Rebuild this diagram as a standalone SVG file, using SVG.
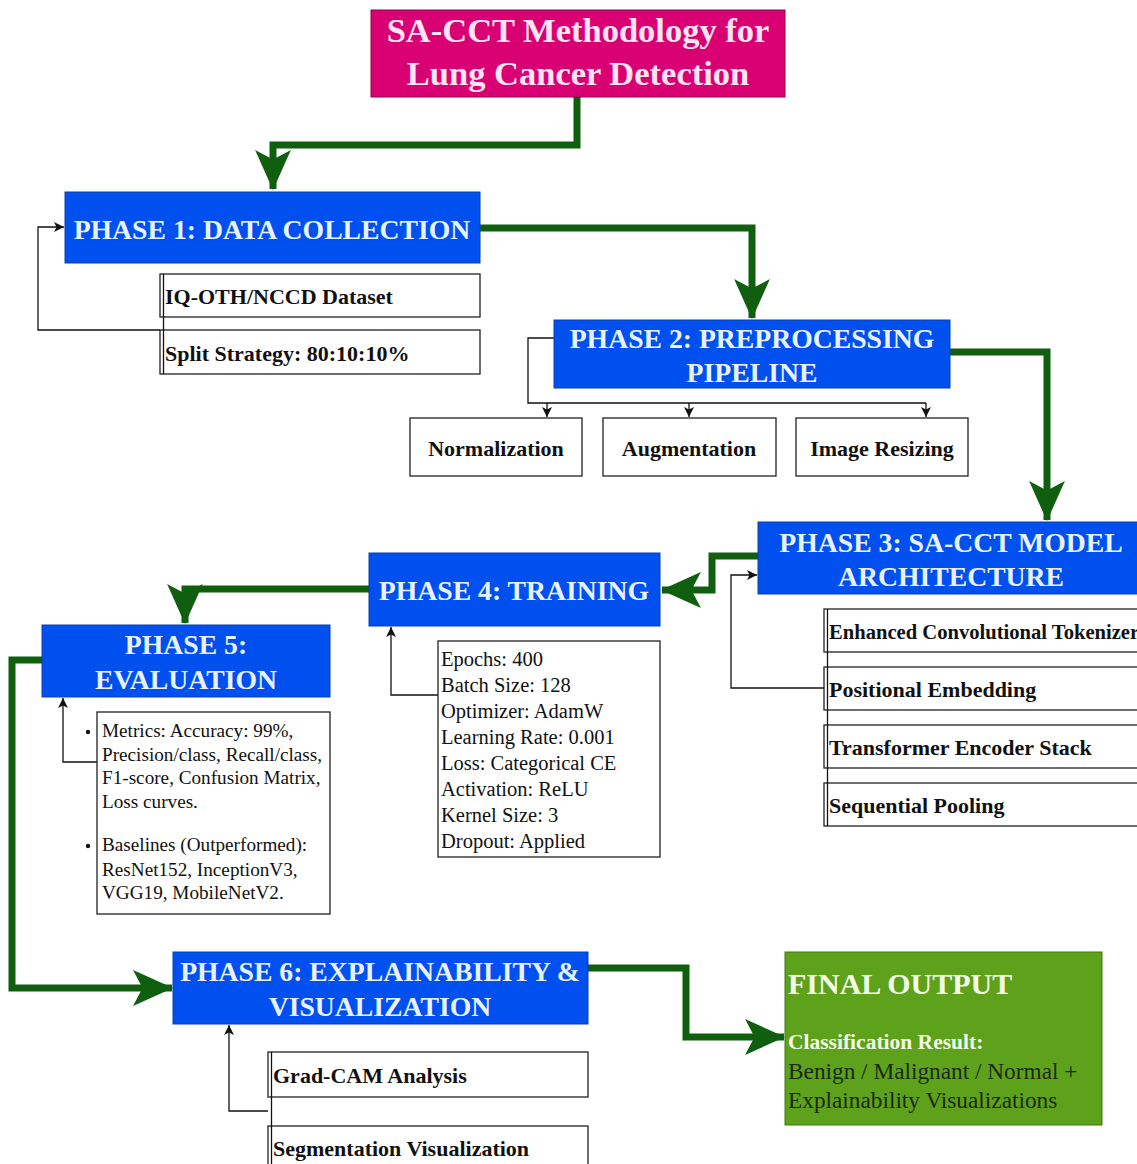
<svg xmlns="http://www.w3.org/2000/svg" width="1137" height="1164" viewBox="0 0 1137 1164">
<style>
.phase{fill:#0050ef;stroke:#0b3fb0;stroke-width:1}
.ph{font-family:"Liberation Serif",serif;font-weight:bold;font-size:27.7px;fill:#e8f2ff;text-anchor:middle}
.sub{fill:#fff;stroke:#222;stroke-width:1.3}
.st{font-family:"Liberation Serif",serif;font-weight:bold;font-size:22px;fill:#111}
.st2{font-family:"Liberation Serif",serif;font-weight:bold;font-size:20.6px;fill:#111}
.dt{font-family:"Liberation Serif",serif;font-size:20.5px;fill:#111}
.dt5{font-family:"Liberation Serif",serif;font-size:19.2px;fill:#111}
.g{fill:none;stroke:#0f5f0f;stroke-width:7;marker-end:url(#ga)}
.b{fill:none;stroke:#111;stroke-width:1.3;marker-end:url(#ba)}
.bl{fill:none;stroke:#111;stroke-width:1.3}
</style>
<defs>
<marker id="ga" markerUnits="userSpaceOnUse" markerWidth="40" markerHeight="36" viewBox="0 0 38 34" refX="37" refY="17" orient="auto">
<path d="M0,0 L38,17 L0,34 L9,17 z" fill="#0f5f0f"/>
</marker>
<marker id="ba" markerUnits="userSpaceOnUse" markerWidth="10" markerHeight="10" viewBox="0 0 10 10" refX="10" refY="5" orient="auto">
<path d="M0,0 L10,5 L0,10 L2.5,5 z" fill="#111"/>
</marker>
</defs>
<rect width="1137" height="1164" fill="#fff"/>

<g id="connectors">
<path class="g" d="M577,97 V145 H273 V189"/>
<path class="g" d="M480,228 H752 V318"/>
<path class="g" d="M950,352 H1047 V520"/>
<path class="g" d="M758,556 H712 V590 H662"/>
<path class="g" d="M369,589 H185 V623"/>
<path class="g" d="M42,660 H12 V988 H172"/>
<path class="g" d="M588,968 H686 V1037 H784"/>
<path class="b" d="M160,330 H38 V227 H64"/>
<path class="bl" d="M554,338 H528 V403 H926"/>
<path class="b" d="M547,403 V417"/>
<path class="b" d="M689,403 V417"/>
<path class="b" d="M926,403 V417"/>
<path class="b" d="M826,688 H731 V575 H757"/>
<path class="b" d="M438,695 H391 V627"/>
<path class="b" d="M97,762 H63 V698"/>
<path class="b" d="M268,1111 H229 V1025"/>
</g>

<g id="title">
<rect x="371" y="10" width="414" height="87" fill="#d80073" stroke="#8f0050" stroke-width="1"/>
<text x="578" y="42" font-family="Liberation Serif,serif" font-weight="bold" font-size="34.5" fill="#ffe4f2" text-anchor="middle">SA-CCT Methodology for</text>
<text x="578" y="85" font-family="Liberation Serif,serif" font-weight="bold" font-size="34.5" fill="#ffe4f2" text-anchor="middle">Lung Cancer Detection</text>
</g>

<g id="phase1">
<rect class="phase" x="65" y="192" width="415" height="71"/>
<text class="ph" x="272" y="239">PHASE 1: DATA COLLECTION</text>
</g>
<g id="p1-dataset">
<rect class="sub" x="160" y="274" width="320" height="43"/>
<text class="st" x="165" y="304">IQ-OTH/NCCD Dataset</text>
</g>
<g id="p1-split">
<rect class="sub" x="160" y="330" width="320" height="44"/>
<text class="st" x="165" y="361">Split Strategy: 80:10:10%</text>
</g>
<line class="bl" x1="163.5" y1="274" x2="163.5" y2="374"/>

<g id="phase2">
<rect class="phase" x="554" y="320" width="396" height="68"/>
<text class="ph" x="752" y="348">PHASE 2: PREPROCESSING</text>
<text class="ph" x="752" y="382">PIPELINE</text>
</g>
<g id="p2-norm">
<rect class="sub" x="410" y="418" width="172" height="58"/>
<text class="st" x="496" y="456" text-anchor="middle">Normalization</text>
</g>
<g id="p2-aug">
<rect class="sub" x="603" y="418" width="173" height="58"/>
<text class="st" x="689" y="456" text-anchor="middle">Augmentation</text>
</g>
<g id="p2-resize">
<rect class="sub" x="796" y="418" width="172" height="58"/>
<text class="st" x="882" y="456" text-anchor="middle">Image Resizing</text>
</g>

<g id="phase3">
<rect class="phase" x="758" y="522" width="385" height="72"/>
<text class="ph" x="951" y="552">PHASE 3: SA-CCT MODEL</text>
<text class="ph" x="951" y="586">ARCHITECTURE</text>
</g>
<g id="p3-tok">
<rect class="sub" x="824" y="609" width="320" height="43"/>
<text class="st2" x="829" y="639">Enhanced Convolutional Tokenizer</text>
</g>
<g id="p3-pos">
<rect class="sub" x="824" y="667" width="320" height="43"/>
<text class="st" x="829" y="697">Positional Embedding</text>
</g>
<g id="p3-enc">
<rect class="sub" x="824" y="725" width="320" height="43"/>
<text class="st" x="829" y="755">Transformer Encoder Stack</text>
</g>
<g id="p3-pool">
<rect class="sub" x="824" y="783" width="320" height="43"/>
<text class="st" x="829" y="813">Sequential Pooling</text>
</g>
<line class="bl" x1="827.5" y1="609" x2="827.5" y2="826"/>

<g id="phase4">
<rect class="phase" x="369" y="553" width="291" height="73"/>
<text class="ph" x="514" y="600">PHASE 4: TRAINING</text>
</g>
<g id="p4-details">
<rect class="sub" x="438" y="641" width="222" height="216"/>
<text class="dt" x="441" y="666">Epochs: 400</text>
<text class="dt" x="441" y="692">Batch Size: 128</text>
<text class="dt" x="441" y="718">Optimizer: AdamW</text>
<text class="dt" x="441" y="744">Learning Rate: 0.001</text>
<text class="dt" x="441" y="770">Loss: Categorical CE</text>
<text class="dt" x="441" y="796">Activation: ReLU</text>
<text class="dt" x="441" y="822">Kernel Size: 3</text>
<text class="dt" x="441" y="848">Dropout: Applied</text>
</g>

<g id="phase5">
<rect class="phase" x="42" y="625" width="288" height="72"/>
<text class="ph" x="186" y="654">PHASE 5:</text>
<text class="ph" x="186" y="689">EVALUATION</text>
</g>
<g id="p5-details">
<rect class="sub" x="97" y="712" width="233" height="202"/>
<circle cx="88" cy="732" r="2.2" fill="#111"/>
<circle cx="88" cy="846" r="2.2" fill="#111"/>
<text class="dt5" x="102" y="737">Metrics: Accuracy: 99%,</text>
<text class="dt5" x="102" y="761">Precision/class, Recall/class,</text>
<text class="dt5" x="102" y="784">F1-score, Confusion Matrix,</text>
<text class="dt5" x="102" y="808">Loss curves.</text>
<text class="dt5" x="102" y="851">Baselines (Outperformed):</text>
<text class="dt5" x="102" y="876">ResNet152, InceptionV3,</text>
<text class="dt5" x="102" y="899">VGG19, MobileNetV2.</text>
</g>

<g id="phase6">
<rect class="phase" x="173" y="952" width="415" height="72"/>
<text class="ph" x="380" y="981">PHASE 6: EXPLAINABILITY &amp;</text>
<text class="ph" x="380" y="1016">VISUALIZATION</text>
</g>
<g id="p6-gradcam">
<rect class="sub" x="268" y="1052" width="320" height="45"/>
<text class="st" x="273" y="1083">Grad-CAM Analysis</text>
</g>
<g id="p6-seg">
<rect class="sub" x="268" y="1126" width="320" height="45"/>
<text class="st" x="273" y="1156">Segmentation Visualization</text>
</g>
<line class="bl" x1="271.5" y1="1052" x2="271.5" y2="1171"/>

<g id="final">
<rect x="785" y="952" width="317" height="173" fill="#5ea11b" stroke="#3f7a10" stroke-width="1"/>
<text x="788" y="994" font-family="Liberation Serif,serif" font-weight="bold" font-size="30" fill="#f2ffe6">FINAL OUTPUT</text>
<text x="788" y="1049" font-family="Liberation Serif,serif" font-weight="bold" font-size="21.5" fill="#f2ffe6">Classification Result:</text>
<text x="788" y="1079" font-family="Liberation Serif,serif" font-size="23.3" fill="#1a2a10">Benign / Malignant / Normal +</text>
<text x="788" y="1108" font-family="Liberation Serif,serif" font-size="23.3" fill="#1a2a10">Explainability Visualizations</text>
</g>
</svg>
